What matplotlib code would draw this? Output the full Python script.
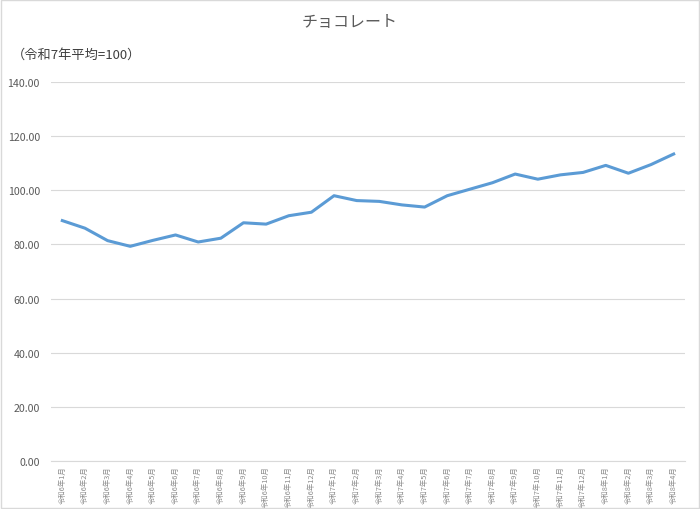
import matplotlib
matplotlib.use('Agg')
import matplotlib.pyplot as plt
from matplotlib.patches import Rectangle

plt.rcParams['font.family'] = ['Noto Sans CJK JP', 'DejaVu Sans']

# 月のラベル（令和6年1月〜令和8年4月）
months = ['令和6年1月', '令和6年2月', '令和6年3月', '令和6年4月', '令和6年5月', '令和6年6月',
          '令和6年7月', '令和6年8月', '令和6年9月', '令和6年10月', '令和6年11月', '令和6年12月',
          '令和7年1月', '令和7年2月', '令和7年3月', '令和7年4月', '令和7年5月', '令和7年6月',
          '令和7年7月', '令和7年8月', '令和7年9月', '令和7年10月', '令和7年11月', '令和7年12月',
          '令和8年1月', '令和8年2月', '令和8年3月', '令和8年4月']
index_values = [88.8, 86.0, 81.4, 79.3, 81.5, 83.5, 80.9, 82.3, 88.0, 87.5, 90.6, 91.9,
                98.0, 96.2, 95.9, 94.6, 93.8, 98.0, 100.4, 102.8, 106.0, 104.1, 105.7, 106.6,
                109.2, 106.3, 109.5, 113.4]
y_ticks = [0, 20, 40, 60, 80, 100, 120, 140]

fig = plt.figure(figsize=(7, 5.1), dpi=100)
ax = fig.add_axes([51/700, 1-462/510, (685-51)/700, (462-83)/510])

x = list(range(len(months)))
ax.plot(x, index_values, color='#5B9BD5', linewidth=2.2, solid_joinstyle='round', zorder=3)

ax.set_xlim(-0.5, len(months) - 0.5)
ax.set_ylim(0, 140)
ax.set_yticks(y_ticks)
ax.set_yticklabels([f'{v:.2f}' for v in y_ticks], fontsize=7.6, color='#595959')
ax.set_xticks(x)
ax.set_xticklabels(months, rotation=90, fontsize=5.3, color='#8c8c8c', va='top', ha='center')
ax.tick_params(axis='both', length=0)
ax.tick_params(axis='y', pad=8)
ax.tick_params(axis='x', pad=3)

ax.grid(axis='y', color='#d9d9d9', linewidth=0.8)
ax.set_axisbelow(True)
for side in ['top', 'right', 'left']:
    ax.spines[side].set_visible(False)
ax.spines['bottom'].set_color('#d9d9d9')
ax.spines['bottom'].set_linewidth(0.8)

fig.text(0.5, 1-22/510, 'チョコレート', ha='center', va='center', fontsize=11.5, color='#595959')
fig.text(12/700, 1-55/510, '（令和7年平均=100）', ha='left', va='center', fontsize=9.5, color='#404040')

# 外枠
fig.patches.append(Rectangle((0.001, 0.001), 0.997, 0.997, transform=fig.transFigure,
                             fill=False, edgecolor='#d9d9d9', linewidth=1.0))

fig.savefig('out.png', dpi=100)
